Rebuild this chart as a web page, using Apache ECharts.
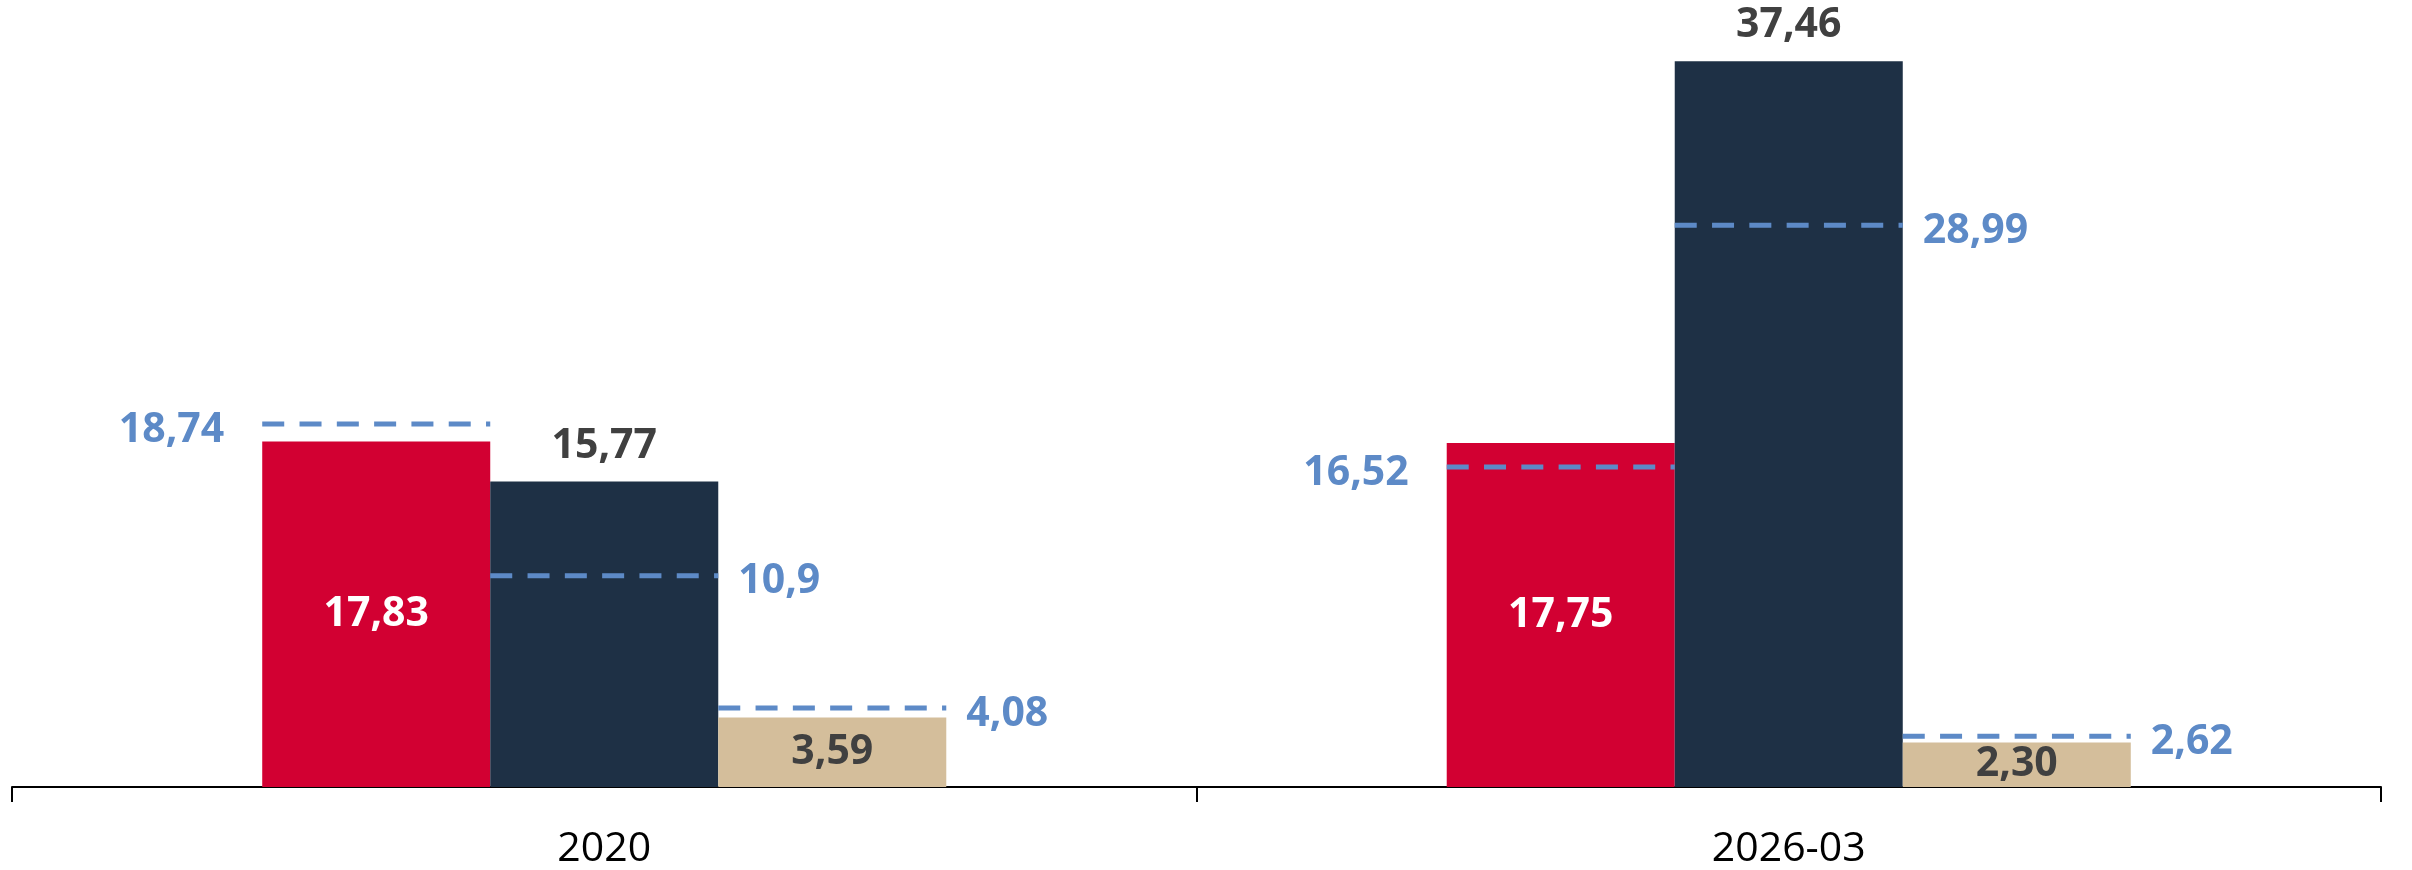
<!DOCTYPE html>
<html>
<head>
<meta charset="utf-8">
<script src="https://cdn.jsdelivr.net/npm/echarts@6/dist/echarts.min.js"></script>
<style>
html,body{margin:0;padding:0;background:#fff;}
#chart{width:2412px;height:870px;}
</style>
</head>
<body>
<div id="chart"></div>
<script>
const categories = ['2020', '2026-03'];
const seriesRed = [17.83, 17.75];
const seriesNavy = [15.77, 37.46];
const seriesTan = [3.59, 2.30];
const targetRed = [18.74, 16.52];
const targetNavy = [10.9, 28.99];
const targetTan = [4.08, 2.62];

const RED = '#D20032', NAVY = '#1E3045', TAN = '#D4BE9B', BLUE = '#5D8AC7', DARK = '#404040';
const FONT = '"Open Sans", sans-serif';
const BAR_W = 0.1925;

const chart = echarts.init(document.getElementById('chart'));

function fmtBar(p) { return p.value.toFixed(2).replace('.', ','); }

function barSeries(data, color, pos, labelColor, dist) {
  return {
    type: 'bar', data: data, barWidth: (BAR_W * 100) + '%', barGap: '0%',
    itemStyle: { color: color },
    label: { show: true, position: pos, distance: dist, color: labelColor,
      fontFamily: FONT, fontWeight: 'bold', fontSize: 41, formatter: fmtBar },
    emphasis: { disabled: true }
  };
}

function targetSeries(values, idx, side) {
  return {
    type: 'custom', z: 10,
    data: values.map((v, i) => [i, v]),
    renderItem: function (params, api) {
      const c = api.coord([api.value(0), api.value(1)]);
      const band = api.size([1, 0])[0];
      const bw = band * BAR_W;
      const x0 = c[0] - 1.5 * bw + idx * bw;
      const x1 = x0 + bw;
      const txt = String(api.value(1)).replace('.', ',');
      return {
        type: 'group',
        children: [
          { type: 'line', shape: { x1: x0, y1: c[1], x2: x1, y2: c[1] },
            style: { stroke: BLUE, lineWidth: 5, lineDash: [22, 15.3] } },
          { type: 'text',
            style: { text: txt, x: side === 'left' ? x0 - 38 : x1 + 20, y: c[1] + 6,
              align: side === 'left' ? 'right' : 'left', verticalAlign: 'middle',
              fill: BLUE, font: 'bold 41px ' + FONT } }
        ]
      };
    }
  };
}

chart.setOption({
  animation: false,
  grid: { left: 12, right: 31, top: 12, bottom: 83, containLabel: false },
  xAxis: {
    type: 'category', data: categories,
    axisLine: { lineStyle: { color: '#000', width: 2 } },
    axisTick: { show: true, length: 15, lineStyle: { color: '#000', width: 2 } },
    axisLabel: { color: '#000', fontFamily: FONT, fontSize: 41, margin: 42 }
  },
  yAxis: { type: 'value', min: 0, max: 40, show: false, splitLine: { show: false } },
  series: [
    barSeries(seriesRed, RED, 'inside', '#fff', 5),
    barSeries(seriesNavy, NAVY, 'top', DARK, 15),
    barSeries(seriesTan, TAN, 'inside', DARK, 5),
    targetSeries(targetRed, 0, 'left'),
    targetSeries(targetNavy, 1, 'right'),
    targetSeries(targetTan, 2, 'right')
  ]
});
</script>
</body>
</html>
